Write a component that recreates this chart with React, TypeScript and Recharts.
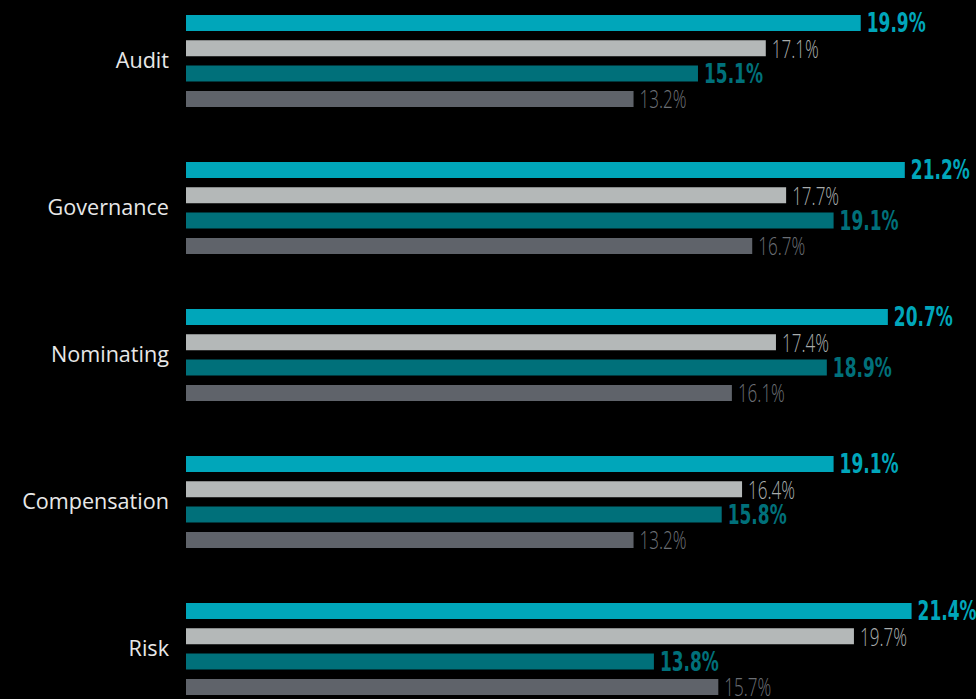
import React from 'react';
import { BarChart, Bar, XAxis, YAxis, LabelList } from 'recharts';

const categories = ['Audit', 'Governance', 'Nominating', 'Compensation', 'Risk'];
const seriesA = [19.9, 21.2, 20.7, 19.1, 21.4];
const seriesB = [17.1, 17.7, 17.4, 16.4, 19.7];
const seriesC = [15.1, 19.1, 18.9, 15.8, 13.8];
const seriesD = [13.2, 16.7, 16.1, 13.2, 15.7];

const data = categories.map((name, i) => ({
  name,
  a: seriesA[i],
  b: seriesB[i],
  c: seriesC[i],
  d: seriesD[i],
}));

const makeLabel = (color: string, bold: boolean) => (props: any) => {
  const { x, y, width, height, value } = props;
  return (
    <text
      x={x + width + 6}
      y={y + height / 2}
      dy={bold ? '0.36em' : '0.37em'}
      fill={color}
      fontFamily={bold ? "'Liberation Sans Narrow', 'DejaVu Sans Condensed', sans-serif" : "'Open Sans', sans-serif"}
      fontWeight={bold ? 700 : 300}
      fontSize={bold ? 26 : 25}
      textLength={bold ? 59 : 47}
      lengthAdjust="spacingAndGlyphs"
    >
      {Number(value).toFixed(1)}%
    </text>
  );
};

export default function App() {
  return (
    <div
      style={{
        position: 'absolute',
        left: 0,
        top: 0,
        width: 976,
        height: 699,
        background: '#000',
        overflow: 'hidden',
      }}
    >
      <div style={{ position: 'absolute', left: 0, top: -13 }}>
        <BarChart
          layout="vertical"
          data={data}
          width={976}
          height={735}
          margin={{ top: 0, right: 0, bottom: 0, left: 0 }}
          barSize={16}
          barGap={9.3}
        >
          <XAxis type="number" domain={[0, 23.3]} hide />
          <YAxis
            type="category"
            dataKey="name"
            width={186}
            axisLine={false}
            tickLine={false}
            tickMargin={11}
            tick={{ fill: '#e8e8e8', fontSize: 21.6, fontFamily: "'Open Sans', sans-serif" }}
          />
          <Bar dataKey="a" fill="#00a6ba" isAnimationActive={false}>
            <LabelList dataKey="a" content={makeLabel('#00a6ba', true)} />
          </Bar>
          <Bar dataKey="b" fill="#b4b8b8" isAnimationActive={false}>
            <LabelList dataKey="b" content={makeLabel('#a9adad', false)} />
          </Bar>
          <Bar dataKey="c" fill="#00707a" isAnimationActive={false}>
            <LabelList dataKey="c" content={makeLabel('#00707a', true)} />
          </Bar>
          <Bar dataKey="d" fill="#5f636a" isAnimationActive={false}>
            <LabelList dataKey="d" content={makeLabel('#6b6f75', false)} />
          </Bar>
        </BarChart>
      </div>
    </div>
  );
}
